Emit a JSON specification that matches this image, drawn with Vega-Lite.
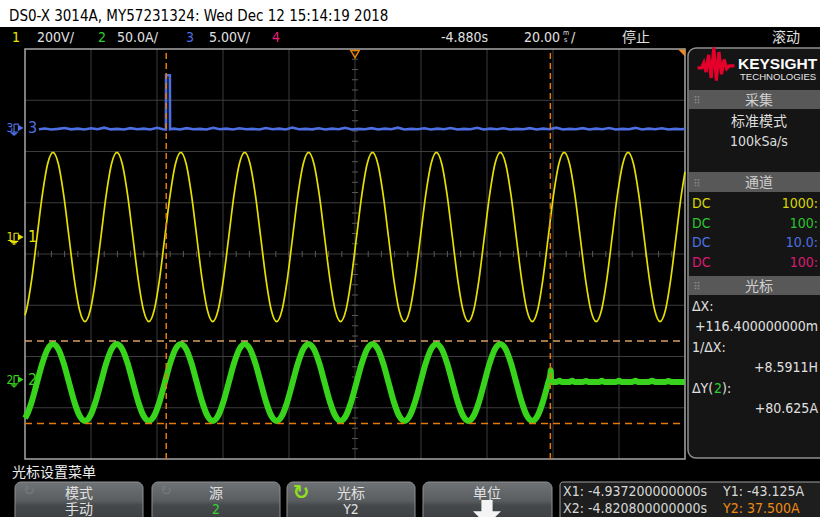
{
"$schema":"https://vega.github.io/schema/vega-lite/v6.json",
"width":820,"height":517,"autosize":{"type":"none"},"padding":0,"background":"#000000",
"config":{"view":{"stroke":null},"text":{"font":"DejaVu Sans Condensed, Liberation Sans Narrow, Noto Sans CJK SC, sans-serif","fontSize":14,"baseline":"alphabetic","color":"#e0e0e0"}},
"resolve":{"scale":{"x":"independent","y":"independent","color":"independent"}},
"data":{"values":[{}]},
"datasets":{
"ch1":[{"t":-100,"v":-305.4},{"t":-99.58,"v":-285.8},{"t":-97.97,"v":-165},{"t":-96.36,"v":0},{"t":-94.74,"v":165},{"t":-93.13,"v":285.8},
{"t":-91.52,"v":330},{"t":-89.9,"v":285.8},{"t":-88.29,"v":165},{"t":-86.67,"v":0},{"t":-85.06,"v":-165},{"t":-83.45,"v":-285.8},{"t":-81.83,"v":-330},{"t":-80.22,"v":-285.8},{"t":-78.61,"v":-165},{"t":-76.99,"v":0},{"t":-75.38,"v":165},{"t":-73.77,"v":285.8},
{"t":-72.15,"v":330},{"t":-70.54,"v":285.8},{"t":-68.92,"v":165},{"t":-67.31,"v":0},{"t":-65.7,"v":-165},{"t":-64.08,"v":-285.8},{"t":-62.47,"v":-330},{"t":-60.86,"v":-285.8},{"t":-59.24,"v":-165},{"t":-57.63,"v":0},{"t":-56.01,"v":165},{"t":-54.4,"v":285.8},
{"t":-52.79,"v":330},{"t":-51.17,"v":285.8},{"t":-49.56,"v":165},{"t":-47.95,"v":0},{"t":-46.33,"v":-165},{"t":-44.72,"v":-285.8},{"t":-43.11,"v":-330},{"t":-41.49,"v":-285.8},{"t":-39.88,"v":-165},{"t":-38.26,"v":0},{"t":-36.65,"v":165},{"t":-35.04,"v":285.8},
{"t":-33.42,"v":330},{"t":-31.81,"v":285.8},{"t":-30.2,"v":165},{"t":-28.58,"v":0},{"t":-26.97,"v":-165},{"t":-25.36,"v":-285.8},{"t":-23.74,"v":-330},{"t":-22.13,"v":-285.8},{"t":-20.51,"v":-165},{"t":-18.9,"v":0},{"t":-17.29,"v":165},{"t":-15.67,"v":285.8},
{"t":-14.06,"v":330},{"t":-12.45,"v":285.8},{"t":-10.83,"v":165},{"t":-9.22,"v":0},{"t":-7.6,"v":-165},{"t":-5.99,"v":-285.8},{"t":-4.38,"v":-330},{"t":-2.76,"v":-285.8},{"t":-1.15,"v":-165},{"t":0.46,"v":0},{"t":2.08,"v":165},{"t":3.69,"v":285.8},
{"t":5.31,"v":330},{"t":6.92,"v":285.8},{"t":8.53,"v":165},{"t":10.15,"v":0},{"t":11.76,"v":-165},{"t":13.37,"v":-285.8},{"t":14.99,"v":-330},{"t":16.6,"v":-285.8},{"t":18.21,"v":-165},{"t":19.83,"v":0},{"t":21.44,"v":165},{"t":23.06,"v":285.8},
{"t":24.67,"v":330},{"t":26.28,"v":285.8},{"t":27.9,"v":165},{"t":29.51,"v":0},{"t":31.12,"v":-165},{"t":32.74,"v":-285.8},{"t":34.35,"v":-330},{"t":35.97,"v":-285.8},{"t":37.58,"v":-165},{"t":39.19,"v":0},{"t":40.81,"v":165},{"t":42.42,"v":285.8},
{"t":44.03,"v":330},{"t":45.65,"v":285.8},{"t":47.26,"v":165},{"t":48.87,"v":0},{"t":50.49,"v":-165},{"t":52.1,"v":-285.8},{"t":53.72,"v":-330},{"t":55.33,"v":-285.8},{"t":56.94,"v":-165},{"t":58.56,"v":0},{"t":60.17,"v":165},{"t":61.78,"v":285.8},
{"t":63.4,"v":330},{"t":65.01,"v":285.8},{"t":66.62,"v":165},{"t":68.24,"v":0},{"t":69.85,"v":-165},{"t":71.47,"v":-285.8},{"t":73.08,"v":-330},{"t":74.69,"v":-285.8},{"t":76.31,"v":-165},{"t":77.92,"v":0},{"t":79.53,"v":165},{"t":81.15,"v":285.8},
{"t":82.76,"v":330},{"t":84.38,"v":285.8},{"t":85.99,"v":165},{"t":87.6,"v":0},{"t":89.22,"v":-165},{"t":90.83,"v":-285.8},{"t":92.44,"v":-330},{"t":94.06,"v":-285.8},{"t":95.67,"v":-165},{"t":97.28,"v":0},{"t":98.9,"v":165},{"t":100,"v":254.6}],
"ch2":[{"t":-100,"i":-37.7},{"t":-99.58,"i":-35.5},{"t":-97.97,"i":-21.8},{"t":-96.36,"i":-3},{"t":-94.74,"i":15.8},{"t":-93.13,"i":29.5},
{"t":-91.52,"i":34.5},{"t":-89.9,"i":29.5},{"t":-88.29,"i":15.8},{"t":-86.67,"i":-3},{"t":-85.06,"i":-21.8},{"t":-83.45,"i":-35.5},{"t":-81.83,"i":-40.5},{"t":-80.22,"i":-35.5},{"t":-78.61,"i":-21.8},{"t":-76.99,"i":-3},{"t":-75.38,"i":15.8},{"t":-73.77,"i":29.5},
{"t":-72.15,"i":34.5},{"t":-70.54,"i":29.5},{"t":-68.92,"i":15.8},{"t":-67.31,"i":-3},{"t":-65.7,"i":-21.8},{"t":-64.08,"i":-35.5},{"t":-62.47,"i":-40.5},{"t":-60.86,"i":-35.5},{"t":-59.24,"i":-21.8},{"t":-57.63,"i":-3},{"t":-56.01,"i":15.8},{"t":-54.4,"i":29.5},
{"t":-52.79,"i":34.5},{"t":-51.17,"i":29.5},{"t":-49.56,"i":15.8},{"t":-47.95,"i":-3},{"t":-46.33,"i":-21.8},{"t":-44.72,"i":-35.5},{"t":-43.11,"i":-40.5},{"t":-41.49,"i":-35.5},{"t":-39.88,"i":-21.8},{"t":-38.26,"i":-3},{"t":-36.65,"i":15.8},{"t":-35.04,"i":29.5},
{"t":-33.42,"i":34.5},{"t":-31.81,"i":29.5},{"t":-30.2,"i":15.8},{"t":-28.58,"i":-3},{"t":-26.97,"i":-21.8},{"t":-25.36,"i":-35.5},{"t":-23.74,"i":-40.5},{"t":-22.13,"i":-35.5},{"t":-20.51,"i":-21.8},{"t":-18.9,"i":-3},{"t":-17.29,"i":15.8},{"t":-15.67,"i":29.5},
{"t":-14.06,"i":34.5},{"t":-12.45,"i":29.5},{"t":-10.83,"i":15.8},{"t":-9.22,"i":-3},{"t":-7.6,"i":-21.8},{"t":-5.99,"i":-35.5},{"t":-4.38,"i":-40.5},{"t":-2.76,"i":-35.5},{"t":-1.15,"i":-21.8},{"t":0.46,"i":-3},{"t":2.08,"i":15.8},{"t":3.69,"i":29.5},
{"t":5.31,"i":34.5},{"t":6.92,"i":29.5},{"t":8.53,"i":15.8},{"t":10.15,"i":-3},{"t":11.76,"i":-21.8},{"t":13.37,"i":-35.5},{"t":14.99,"i":-40.5},{"t":16.6,"i":-35.5},{"t":18.21,"i":-21.8},{"t":19.83,"i":-3},{"t":21.44,"i":15.8},{"t":23.06,"i":29.5},
{"t":24.67,"i":34.5},{"t":26.28,"i":29.5},{"t":27.9,"i":15.8},{"t":29.51,"i":-3},{"t":31.12,"i":-21.8},{"t":32.74,"i":-35.5},{"t":34.35,"i":-40.5},{"t":35.97,"i":-35.5},{"t":37.58,"i":-21.8},{"t":39.19,"i":-3},{"t":40.81,"i":15.8},{"t":42.42,"i":29.5},
{"t":44.03,"i":34.5},{"t":45.65,"i":29.5},{"t":47.26,"i":15.8},{"t":48.87,"i":-3},{"t":50.49,"i":-21.8},{"t":52.1,"i":-35.5},{"t":53.72,"i":-40.5},{"t":55.33,"i":-35.5},{"t":56.94,"i":-21.8},{"t":58.56,"i":-3},{"t":59.2,"i":4.8},{"t":59.3,"i":9},{"t":59.45,"i":-2.5},
{"t":61,"i":-2.5},{"t":62,"i":-1.3},{"t":62.6,"i":-2.5},{"t":65,"i":-2.5},{"t":65.8,"i":-1.2},{"t":66.5,"i":-2.5},{"t":69,"i":-2.5},{"t":70,"i":-1.5},{"t":70.8,"i":-2.5},{"t":74,"i":-2.5},{"t":74.8,"i":-1.2},{"t":75.5,"i":-2.5},{"t":79,"i":-2.5},{"t":80,"i":-1.4},{"t":80.8,"i":-2.5},{"t":84,"i":-2.5},{"t":85,"i":-1.2},{"t":85.8,"i":-2.5},{"t":89,"i":-2.5},{"t":90,"i":-1.3},{"t":91,"i":-2.5},{"t":94,"i":-2.5},{"t":95,"i":-1.5},{"t":95.8,"i":-2.5},{"t":100,"i":-2.5}],
"ch3":[{"t":-95.8,"v":0.03},{"t":-94,"v":0.1},{"t":-92,"v":0},{"t":-90,"v":0.06},{"t":-88,"v":0.15},{"t":-86,"v":0.01},{"t":-84,"v":0.08},{"t":-82,"v":0},{"t":-80,"v":0.12},{"t":-78,"v":0.03},{"t":-76,"v":0.18},{"t":-74,"v":0.01},{"t":-72,"v":0.06},{"t":-70,"v":0},{"t":-68,"v":0.13},{"t":-66,"v":0.03},{"t":-64,"v":0.08},{"t":-62,"v":0},{"t":-60,"v":0.16},{"t":-58.2,"v":0.03},{"t":-57.3,"v":0},{"t":-57.25,"v":5.3},{"t":-56.1,"v":5.3},{"t":-56.05,"v":0.03},{"t":-55,"v":0.08},{"t":-53,"v":0},{"t":-51,"v":0.13},{"t":-49,"v":0.03},{"t":-47,"v":0.06},{"t":-45,"v":0},{"t":-43,"v":0.17},{"t":-41,"v":0.02},{"t":-39,"v":0.08},{"t":-37,"v":0},{"t":-35,"v":0.12},{"t":-33,"v":0.03},{"t":-31,"v":0.06},{"t":-29,"v":0},{"t":-27,"v":0.14},{"t":-25,"v":0.02},{"t":-23,"v":0.08},{"t":-21,"v":0},{"t":-19,"v":0.19},{"t":-17,"v":0.03},{"t":-15,"v":0.06},{"t":-13,"v":0.01},{"t":-11,"v":0.12},{"t":-9,"v":0},{"t":-7,"v":0.08},{"t":-5,"v":0.03},{"t":-3,"v":0.16},{"t":-1,"v":0},{"t":1,"v":0.06},{"t":3,"v":0.02},{"t":5,"v":0.13},{"t":7,"v":0},{"t":9,"v":0.08},{"t":11,"v":0.03},{"t":13,"v":0.18},{"t":15,"v":0},{"t":17,"v":0.06},{"t":19,"v":0.02},{"t":21,"v":0.12},{"t":23,"v":0},{"t":25,"v":0.08},{"t":27,"v":0.03},{"t":29,"v":0.14},{"t":31,"v":0},{"t":33,"v":0.06},{"t":35,"v":0.02},{"t":37,"v":0.17},{"t":39,"v":0},{"t":41,"v":0.08},{"t":43,"v":0.03},{"t":45,"v":0.12},{"t":47,"v":0},{"t":49,"v":0.06},{"t":51,"v":0.02},{"t":53,"v":0.13},{"t":55,"v":0},{"t":57,"v":0.08},{"t":59,"v":0.03},{"t":61,"v":0.18},{"t":63,"v":0},{"t":65,"v":0.06},{"t":67,"v":0.02},{"t":69,"v":0.13},{"t":71,"v":0},{"t":73,"v":0.08},{"t":75,"v":0.03},{"t":77,"v":0.14},{"t":79,"v":0},{"t":81,"v":0.06},{"t":83,"v":0.02},{"t":85,"v":0.16},{"t":87,"v":0},{"t":89,"v":0.08},{"t":91,"v":0.03},{"t":93,"v":0.12},{"t":95,"v":0},{"t":97,"v":0.06},{"t":99,"v":0.02},{"t":100,"v":0.06}],
"cursorsX":[{"name":"X1","t":-57.2},{"name":"X2","t":59.2}],
"cursorsY":[{"name":"Y1","i":-43.125},{"name":"Y2","i":37.5}],
"chan":[{"ch":"1","pos":0.33},{"ch":"2","pos":-2.45},{"ch":"3","pos":2.46}],
"gridT":[-80,-60,-40,-20,0,20,40,60,80],
"gridD":[-3,-2,-1,0,1,2,3],
"ticksD":[-3.8,-3.6,-3.4,-3.2,-3,-2.8,-2.6,-2.4,-2.2,-2,-1.8,-1.6,-1.4,-1.2,-1,-0.8,-0.6,-0.4,-0.2,0,0.2,0.4,0.6,0.8,1,1.2,1.4,1.6,1.8,2,2.2,2.4,2.6,2.8,3,3.2,3.4,3.6,3.8],
"ticksT":[-96,-92,-88,-84,-80,-76,-72,-68,-64,-60,-56,-52,-48,-44,-40,-36,-32,-28,-24,-20,-16,-12,-8,-4,0,4,8,12,16,20,24,28,32,36,40,44,48,52,56,60,64,68,72,76,80,84,88,92,96]
},
"layer":[
{"mark":{"type":"rect","x":0,"y":0,"x2":820,"y2":27,"color":"#ffffff"},"encoding":{}},
{"mark":{"type":"rect","x":688,"y":48,"x2":840,"y2":458,"fill":"#151515","stroke":"#8e8e8e","strokeWidth":1.5,"cornerRadius":8},"encoding":{}},
{"mark":{"type":"rect","x":689,"y":90,"x2":840,"y2":109,"color":"#585858"},"encoding":{}},
{"mark":{"type":"rect","x":689,"y":172,"x2":840,"y2":192,"color":"#585858"},"encoding":{}},
{"mark":{"type":"rect","x":689,"y":276,"x2":840,"y2":295,"color":"#585858"},"encoding":{}},
{"mark":{"type":"rule","x":692,"x2":822,"y":336,"y2":336,"color":"#8a8a8a","strokeWidth":1.2},"encoding":{}},
{"mark":{"type":"rule","x":692,"x2":822,"y":377,"y2":377,"color":"#8a8a8a","strokeWidth":1.2},"encoding":{}},
{"mark":{"type":"rule","x":692,"x2":822,"y":418,"y2":418,"color":"#8a8a8a","strokeWidth":1.2},"encoding":{}},
{"mark":{"type":"rect","x":15,"y":482,"x2":143,"y2":524,"cornerRadius":6,"stroke":"#8d9093","strokeWidth":1,"fill":{"gradient":"linear","x1":0,"y1":0,"x2":0,"y2":1,"stops":[{"offset":0,"color":"#707376"},{"offset":0.45,"color":"#5a5d60"},{"offset":0.55,"color":"#46494c"},{"offset":1,"color":"#3a3c3f"}]}},"encoding":{}},
{"mark":{"type":"rect","x":152,"y":482,"x2":280,"y2":524,"cornerRadius":6,"stroke":"#8d9093","strokeWidth":1,"fill":{"gradient":"linear","x1":0,"y1":0,"x2":0,"y2":1,"stops":[{"offset":0,"color":"#707376"},{"offset":0.45,"color":"#5a5d60"},{"offset":0.55,"color":"#46494c"},{"offset":1,"color":"#3a3c3f"}]}},"encoding":{}},
{"mark":{"type":"rect","x":287,"y":482,"x2":415,"y2":524,"cornerRadius":6,"stroke":"#8d9093","strokeWidth":1,"fill":{"gradient":"linear","x1":0,"y1":0,"x2":0,"y2":1,"stops":[{"offset":0,"color":"#707376"},{"offset":0.45,"color":"#5a5d60"},{"offset":0.55,"color":"#46494c"},{"offset":1,"color":"#3a3c3f"}]}},"encoding":{}},
{"mark":{"type":"rect","x":423,"y":482,"x2":552,"y2":524,"cornerRadius":6,"stroke":"#8d9093","strokeWidth":1,"fill":{"gradient":"linear","x1":0,"y1":0,"x2":0,"y2":1,"stops":[{"offset":0,"color":"#707376"},{"offset":0.45,"color":"#5a5d60"},{"offset":0.55,"color":"#46494c"},{"offset":1,"color":"#3a3c3f"}]}},"encoding":{}},
{"mark":{"type":"rect","x":560,"y":482,"x2":830,"y2":526,"cornerRadius":3,"fill":"#1e1e1e","stroke":"#a0a0a0","strokeWidth":1},"encoding":{}},
{"mark":{"type":"rule","x":720,"x2":720,"y":482,"y2":517,"color":"#a0a0a0","strokeWidth":1},"encoding":{}},

{"data":{"name":"gridT"},"mark":{"type":"rule","color":"#3d3d3d","strokeWidth":1},"encoding":{"x":{"field":"data","type":"quantitative","scale":{"domain":[-100,100],"range":[25,685],"nice":false,"zero":false},"axis":null},"y":{"datum":-4,"type":"quantitative","scale":{"domain":[-4,4],"range":[459,49],"nice":false,"zero":false},"axis":null},"y2":{"datum":4}}},
{"data":{"name":"gridD"},"mark":{"type":"rule","color":"#3d3d3d","strokeWidth":1},"encoding":{"y":{"field":"data","type":"quantitative","scale":{"domain":[-4,4],"range":[459,49],"nice":false,"zero":false},"axis":null},"x":{"datum":-100,"type":"quantitative","scale":{"domain":[-100,100],"range":[25,685],"nice":false,"zero":false},"axis":null},"x2":{"datum":100}}},
{"data":{"name":"ticksD"},"mark":{"type":"tick","orient":"horizontal","size":6,"thickness":1,"color":"#585858","opacity":1},"encoding":{"y":{"field":"data","type":"quantitative","scale":{"domain":[-4,4],"range":[459,49],"nice":false,"zero":false},"axis":null},"x":{"datum":0,"type":"quantitative","scale":{"domain":[-100,100],"range":[25,685],"nice":false,"zero":false},"axis":null}}},
{"data":{"name":"ticksT"},"mark":{"type":"tick","orient":"vertical","size":6,"thickness":1,"color":"#585858","opacity":1},"encoding":{"x":{"field":"data","type":"quantitative","scale":{"domain":[-100,100],"range":[25,685],"nice":false,"zero":false},"axis":null},"y":{"datum":0,"type":"quantitative","scale":{"domain":[-4,4],"range":[459,49],"nice":false,"zero":false},"axis":null}}},
{"mark":{"type":"rect","fillOpacity":0,"stroke":"#a6a6a6","strokeWidth":1.5},"encoding":{"x":{"datum":-100,"type":"quantitative","scale":{"domain":[-100,100],"range":[25,685],"nice":false,"zero":false},"axis":null},"x2":{"datum":100},"y":{"datum":-4,"type":"quantitative","scale":{"domain":[-4,4],"range":[459,49],"nice":false,"zero":false},"axis":null},"y2":{"datum":4}}},

{"data":{"name":"ch3"},"mark":{"type":"line","color":"#4d6fe3","strokeWidth":2.6,"interpolate":"linear"},"encoding":{"x":{"field":"t","type":"quantitative","scale":{"domain":[-100,100],"range":[25,685],"nice":false,"zero":false},"axis":null},"y":{"field":"v","type":"quantitative","scale":{"domain":[-32.15,7.854],"range":[459,49],"nice":false,"zero":false},"axis":null}}},
{"data":{"name":"ch1"},"mark":{"type":"line","color":"#e5e000","strokeWidth":1.7,"interpolate":"monotone"},"encoding":{"x":{"field":"t","type":"quantitative","scale":{"domain":[-100,100],"range":[25,685],"nice":false,"zero":false},"axis":null},"y":{"field":"v","type":"quantitative","scale":{"domain":[-866.3,733.7],"range":[459,49],"nice":false,"zero":false},"axis":null}}},
{"data":{"name":"ch2"},"mark":{"type":"line","color":"#38d41c","strokeWidth":6,"interpolate":"monotone"},"encoding":{"x":{"field":"t","type":"quantitative","scale":{"domain":[-100,100],"range":[25,685],"nice":false,"zero":false},"axis":null},"y":{"field":"i","type":"quantitative","scale":{"domain":[-77.66,322.34],"range":[459,49],"nice":false,"zero":false},"axis":null}}},

{"data":{"name":"cursorsX"},"mark":{"type":"rule","strokeWidth":1.5,"strokeDash":[6,4]},"encoding":{"x":{"field":"t","type":"quantitative","scale":{"domain":[-100,100],"range":[25,685],"nice":false,"zero":false},"axis":null},"y":{"datum":-4,"type":"quantitative","scale":{"domain":[-4,4],"range":[459,49],"nice":false,"zero":false},"axis":null},"y2":{"datum":4},"color":{"field":"name","type":"nominal","scale":{"domain":["X1","X2"],"range":["#e8780c","#e8780c"]},"legend":null}}},
{"data":{"name":"cursorsY"},"mark":{"type":"rule","strokeWidth":1.5,"strokeDash":[7,5]},"encoding":{"y":{"field":"i","type":"quantitative","scale":{"domain":[-77.66,322.34],"range":[459,49],"nice":false,"zero":false},"axis":null},"x":{"datum":-100,"type":"quantitative","scale":{"domain":[-100,100],"range":[25,685],"nice":false,"zero":false},"axis":null},"x2":{"datum":100},"color":{"field":"name","type":"nominal","scale":{"domain":["Y1","Y2"],"range":["#e8780c","#d6a064"]},"legend":null}}},

{"mark":{"type":"point","shape":"triangle-down","filled":false,"size":70,"color":"#e8820a","strokeWidth":1.5,"opacity":1},"encoding":{"x":{"datum":0,"type":"quantitative","scale":{"domain":[-100,100],"range":[25,685],"nice":false,"zero":false},"axis":null},"y":{"datum":3.9,"type":"quantitative","scale":{"domain":[-4,4],"range":[459,49],"nice":false,"zero":false},"axis":null}}},
{"mark":{"type":"point","shape":"M-1,-1L1,-1L1,1Z","filled":true,"size":49,"color":"#f08c1e","opacity":1},"encoding":{"x":{"datum":99,"type":"quantitative","scale":{"domain":[-100,100],"range":[25,685],"nice":false,"zero":false},"axis":null},"y":{"datum":3.92,"type":"quantitative","scale":{"domain":[-4,4],"range":[459,49],"nice":false,"zero":false},"axis":null}}},

{"data":{"name":"chan"},"mark":{"type":"text","align":"left","baseline":"middle","dx":3,"fontSize":16},"encoding":{"x":{"datum":-100,"type":"quantitative","scale":{"domain":[-100,100],"range":[25,685],"nice":false,"zero":false},"axis":null},"y":{"field":"pos","type":"quantitative","scale":{"domain":[-4,4],"range":[459,49],"nice":false,"zero":false},"axis":null},"text":{"field":"ch"},"color":{"field":"ch","type":"nominal","scale":{"domain":["1","2","3"],"range":["#e5e000","#38d41c","#4d6fe3"]},"legend":null}}},
{"data":{"name":"chan"},"mark":{"type":"text","align":"center","baseline":"middle","dx":-15,"fontSize":12},"encoding":{"x":{"datum":-100,"type":"quantitative","scale":{"domain":[-100,100],"range":[25,685],"nice":false,"zero":false},"axis":null},"y":{"field":"pos","type":"quantitative","scale":{"domain":[-4,4],"range":[459,49],"nice":false,"zero":false},"axis":null},"text":{"field":"ch"},"color":{"field":"ch","type":"nominal","scale":{"domain":["1","2","3"],"range":["#e5e000","#38d41c","#4d6fe3"]},"legend":null}}},
{"data":{"name":"chan"},"mark":{"type":"point","shape":"triangle-right","filled":true,"size":45,"opacity":1},"encoding":{"x":{"datum":-101.3,"type":"quantitative","scale":{"domain":[-100,100],"range":[25,685],"nice":false,"zero":false},"axis":null},"y":{"field":"pos","type":"quantitative","scale":{"domain":[-4,4],"range":[459,49],"nice":false,"zero":false},"axis":null},"color":{"field":"ch","type":"nominal","scale":{"domain":["1","2","3"],"range":["#e5e000","#38d41c","#4d6fe3"]},"legend":null}}},
{"data":{"name":"chan"},"mark":{"type":"point","shape":"M-0.15,-0.55H0.55M-0.15,-0.55V0.6M-0.75,0.6H0.45M-0.55,0.8H0.25M-0.35,1H0.05","filled":false,"size":196,"strokeWidth":1.2,"opacity":1},"encoding":{"x":{"datum":-103,"type":"quantitative","scale":{"domain":[-100,100],"range":[25,685],"nice":false,"zero":false},"axis":null},"y":{"field":"pos","type":"quantitative","scale":{"domain":[-4,4],"range":[459,49],"nice":false,"zero":false},"axis":null},"color":{"field":"ch","type":"nominal","scale":{"domain":["1","2","3"],"range":["#e5e000","#38d41c","#4d6fe3"]},"legend":null}}},

{"mark":{"type":"text","text":"DS0-X 3014A, MY57231324: Wed Dec 12 15:14:19 2018","x":9,"y":21,"align":"left","fontSize":15,"font":"Liberation Sans Narrow, Arial Narrow, DejaVu Sans Condensed, sans-serif","color":"#000000"},"encoding":{}},
{"mark":{"type":"text","text":"1","x":12,"y":42,"align":"left","color":"#e6e600"},"encoding":{}},
{"mark":{"type":"text","text":"200V/","x":37,"y":42,"align":"left"},"encoding":{}},
{"mark":{"type":"text","text":"2","x":98,"y":42,"align":"left","color":"#2ed12e"},"encoding":{}},
{"mark":{"type":"text","text":"50.0A/","x":117,"y":42,"align":"left"},"encoding":{}},
{"mark":{"type":"text","text":"3","x":186,"y":42,"align":"left","color":"#4d6ee6"},"encoding":{}},
{"mark":{"type":"text","text":"5.00V/","x":209,"y":42,"align":"left"},"encoding":{}},
{"mark":{"type":"text","text":"4","x":272,"y":42,"align":"left","color":"#e8207a"},"encoding":{}},
{"mark":{"type":"text","text":"-4.880s","x":441,"y":42,"align":"left"},"encoding":{}},
{"mark":{"type":"text","text":"20.00","x":524,"y":42,"align":"left"},"encoding":{}},
{"mark":{"type":"text","text":"m","x":563,"y":35,"align":"left","fontSize":7},"encoding":{}},
{"mark":{"type":"text","text":"s","x":564,"y":42,"align":"left","fontSize":7},"encoding":{}},
{"mark":{"type":"text","text":"/","x":571,"y":42,"align":"left"},"encoding":{}},
{"mark":{"type":"text","text":"停止","x":622,"y":42,"align":"left"},"encoding":{}},
{"mark":{"type":"text","text":"滚动","x":772,"y":42,"align":"left"},"encoding":{}},

{"mark":{"type":"point","shape":"M-1,0.15L-0.78,0.15L-0.66,-0.12L-0.54,0.38L-0.4,-0.55L-0.26,0.7L-0.12,-0.95L0.02,0.85L0.16,-0.7L0.3,0.5L0.44,-0.3L0.58,0.2L0.72,0.05L1,0.05","filled":false,"size":1369,"strokeWidth":3.2,"color":"#e4002b","opacity":1,"x":716,"y":65},"encoding":{}},
{"mark":{"type":"text","text":"KEYSIGHT","x":738,"y":69,"align":"left","fontSize":15.5,"fontWeight":"bold","font":"Liberation Sans, Arial, sans-serif","color":"#ffffff"},"encoding":{}},
{"mark":{"type":"text","text":"TECHNOLOGIES","x":740,"y":80,"align":"left","fontSize":9.6,"font":"Liberation Sans, Arial, sans-serif","color":"#e8e8e8"},"encoding":{}},
{"mark":{"type":"text","text":"⠿","x":697,"y":104,"align":"center","fontSize":10,"color":"#8a8a8a","font":"DejaVu Sans, sans-serif"},"encoding":{}},
{"mark":{"type":"text","text":"⠿","x":697,"y":187,"align":"center","fontSize":10,"color":"#8a8a8a","font":"DejaVu Sans, sans-serif"},"encoding":{}},
{"mark":{"type":"text","text":"⠿","x":697,"y":290,"align":"center","fontSize":10,"color":"#8a8a8a","font":"DejaVu Sans, sans-serif"},"encoding":{}},
{"mark":{"type":"text","text":"采集","x":759,"y":105,"align":"center","color":"#d0d0d0"},"encoding":{}},
{"mark":{"type":"text","text":"标准模式","x":759,"y":126,"align":"center","color":"#dddddd"},"encoding":{}},
{"mark":{"type":"text","text":"100kSa/s","x":759,"y":146,"align":"center","color":"#dddddd"},"encoding":{}},
{"mark":{"type":"text","text":"通道","x":759,"y":187,"align":"center","color":"#d0d0d0"},"encoding":{}},
{"mark":{"type":"text","text":"DC","x":692,"y":208,"align":"left","color":"#d6d600"},"encoding":{}},
{"mark":{"type":"text","text":"DC","x":692,"y":228,"align":"left","color":"#2bc42b"},"encoding":{}},
{"mark":{"type":"text","text":"DC","x":692,"y":247,"align":"left","color":"#4d6fe0"},"encoding":{}},
{"mark":{"type":"text","text":"DC","x":692,"y":267,"align":"left","color":"#d81b72"},"encoding":{}},
{"mark":{"type":"text","text":"1000:","x":818,"y":208,"align":"right","color":"#d6d600"},"encoding":{}},
{"mark":{"type":"text","text":"100:","x":818,"y":228,"align":"right","color":"#2bc42b"},"encoding":{}},
{"mark":{"type":"text","text":"10.0:","x":818,"y":247,"align":"right","color":"#4d6fe0"},"encoding":{}},
{"mark":{"type":"text","text":"100:","x":818,"y":267,"align":"right","color":"#d81b72"},"encoding":{}},
{"mark":{"type":"text","text":"光标","x":759,"y":291,"align":"center","color":"#d0d0d0"},"encoding":{}},
{"mark":{"type":"text","text":"ΔX:","x":692,"y":311,"align":"left"},"encoding":{}},
{"mark":{"type":"text","text":"+116.400000000m","x":818,"y":331,"align":"right"},"encoding":{}},
{"mark":{"type":"text","text":"1/ΔX:","x":692,"y":352,"align":"left"},"encoding":{}},
{"mark":{"type":"text","text":"+8.5911H","x":818,"y":372,"align":"right"},"encoding":{}},
{"mark":{"type":"text","text":"ΔY(","x":692,"y":393,"align":"left"},"encoding":{}},
{"mark":{"type":"text","text":"2","x":714,"y":393,"align":"left","color":"#2ed12e"},"encoding":{}},
{"mark":{"type":"text","text":"):","x":722,"y":393,"align":"left"},"encoding":{}},
{"mark":{"type":"text","text":"+80.625A","x":818,"y":413,"align":"right"},"encoding":{}},

{"mark":{"type":"text","text":"光标设置菜单","x":12,"y":477,"align":"left","color":"#ececec"},"encoding":{}},
{"mark":{"type":"text","text":"↻","x":29,"y":495,"align":"center","fontSize":14,"color":"#76797c","font":"DejaVu Sans, sans-serif"},"encoding":{}},
{"mark":{"type":"text","text":"↻","x":166,"y":495,"align":"center","fontSize":14,"color":"#76797c","font":"DejaVu Sans, sans-serif"},"encoding":{}},
{"mark":{"type":"text","text":"↻","x":301,"y":499,"align":"center","fontSize":20,"fontWeight":"bold","color":"#8fe01e","font":"DejaVu Sans, sans-serif"},"encoding":{}},
{"mark":{"type":"text","text":"模式","x":79,"y":498,"align":"center"},"encoding":{}},
{"mark":{"type":"text","text":"手动","x":79,"y":514,"align":"center"},"encoding":{}},
{"mark":{"type":"text","text":"源","x":216,"y":498,"align":"center"},"encoding":{}},
{"mark":{"type":"text","text":"2","x":216,"y":514,"align":"center","color":"#33d433"},"encoding":{}},
{"mark":{"type":"text","text":"光标","x":351,"y":498,"align":"center"},"encoding":{}},
{"mark":{"type":"text","text":"Y2","x":351,"y":514,"align":"center"},"encoding":{}},
{"mark":{"type":"text","text":"单位","x":487,"y":498,"align":"center"},"encoding":{}},
{"mark":{"type":"point","shape":"M-0.4,-1H0.4V-0.2H1L0,0.8L-1,-0.2H-0.4Z","filled":true,"size":784,"color":"#f4f4f4","opacity":1,"x":487,"y":514},"encoding":{}},
{"mark":{"type":"text","text":"X1: -4.937200000000s","x":563,"y":496,"align":"left","color":"#d8d8d8"},"encoding":{}},
{"mark":{"type":"text","text":"X2: -4.820800000000s","x":563,"y":513,"align":"left","color":"#d8d8d8"},"encoding":{}},
{"mark":{"type":"text","text":"Y1: -43.125A","x":723,"y":496,"align":"left","color":"#d8d8d8"},"encoding":{}},
{"mark":{"type":"text","text":"Y2: 37.500A","x":723,"y":513,"align":"left","color":"#ee8a12"},"encoding":{}}
]
}
